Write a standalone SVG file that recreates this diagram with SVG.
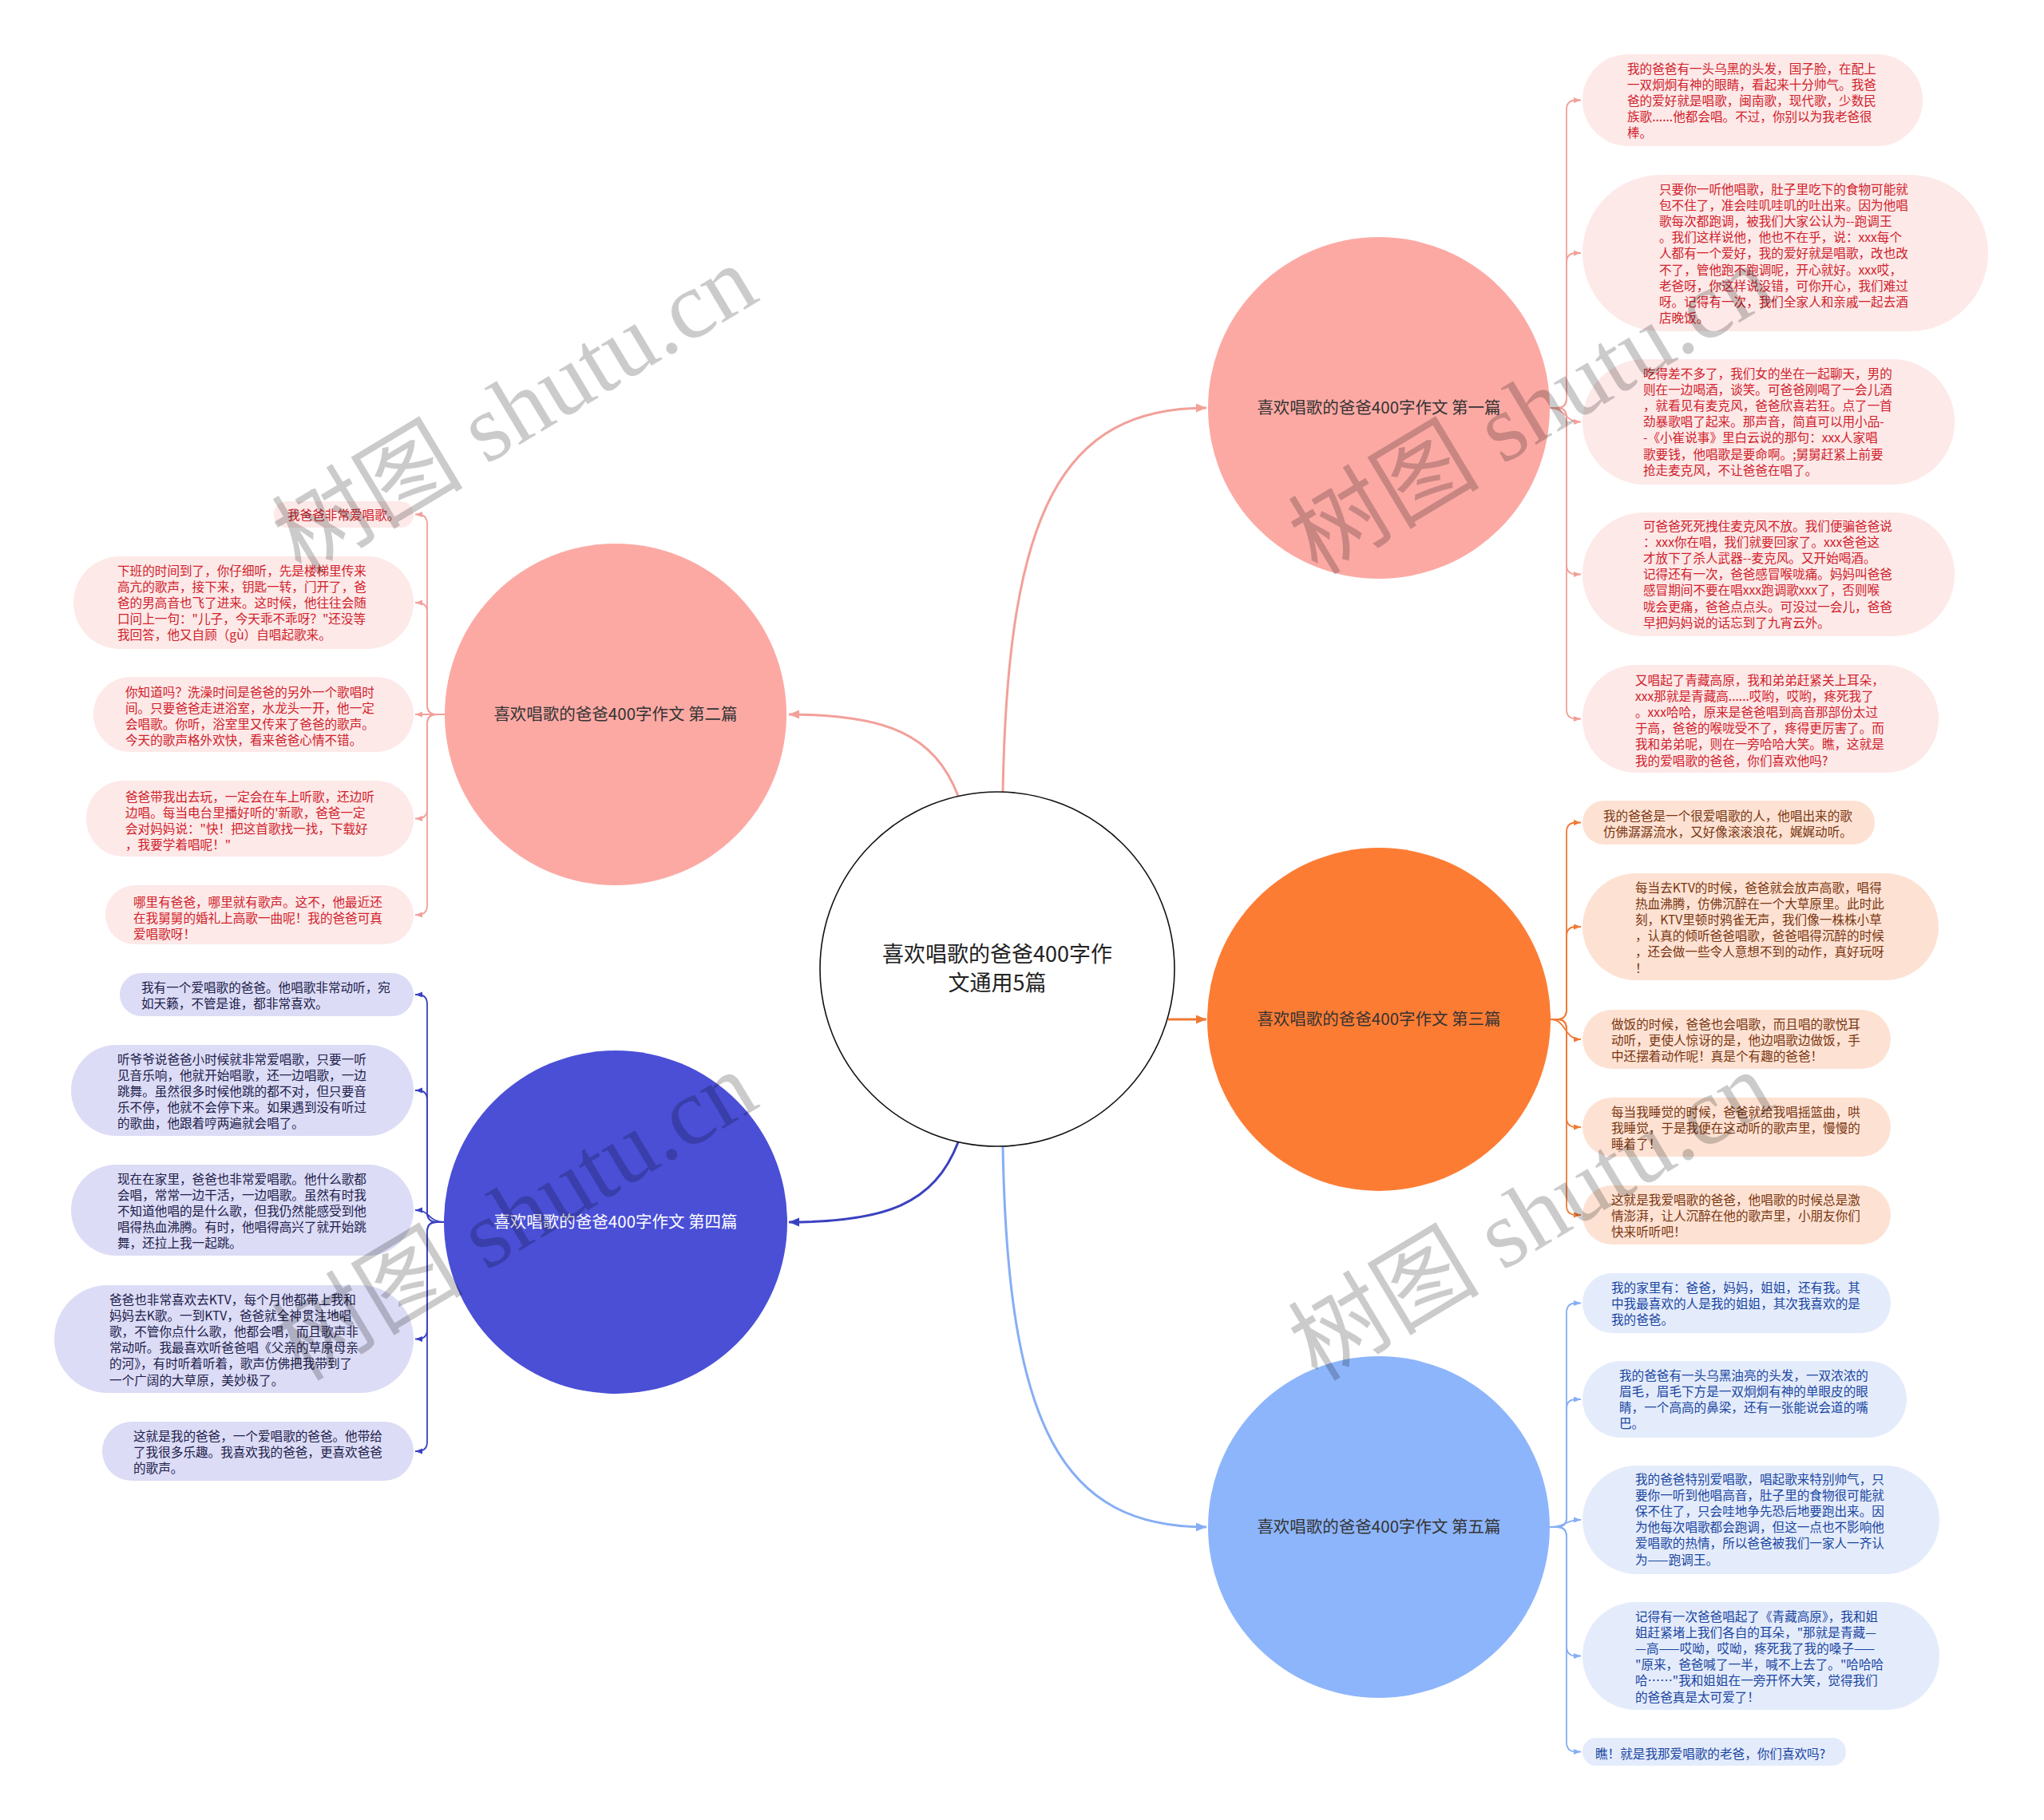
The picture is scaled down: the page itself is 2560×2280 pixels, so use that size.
<svg xmlns="http://www.w3.org/2000/svg" width="2560" height="2280" viewBox="0 0 2560 2280">
<defs>
<style>
.leaf{font-family:"Noto Sans CJK SC","Noto Sans",sans-serif;font-size:15.6px}
.main{font-family:"Noto Sans CJK SC","Noto Sans",sans-serif;font-size:20.5px;text-anchor:middle}
.ctr{font-family:"Noto Sans CJK SC","Noto Sans",sans-serif;font-size:27px;text-anchor:middle;fill:#222}
.wm{font-family:"Liberation Serif","Noto Sans CJK SC",serif;font-size:120px;text-anchor:middle;fill:#000;opacity:0.2}
.rt{fill:#d0212b}.bt{fill:#7a3510}.lt{fill:#1a45a0}.nt{fill:#20204a}
.rf{fill:#fde9e8}.of{fill:#fde2d3}.lf{fill:#e4ecfc}.nf{fill:#dcdcf6}
.c{fill:none}
.cp{stroke:#f2a09a}.co{stroke:#f07a35}.cl{stroke:#86aef5}.cn{stroke:#3a41c0}
.lk{stroke-width:1.8}.mk{stroke-width:3}
</style>
<marker id="aP" markerUnits="userSpaceOnUse" markerWidth="10" markerHeight="8" refX="9" refY="3.5" orient="auto"><path d="M0,0 L9,3.5 L0,7 z" fill="#f2a09a"/></marker>
<marker id="aO" markerUnits="userSpaceOnUse" markerWidth="10" markerHeight="8" refX="9" refY="3.5" orient="auto"><path d="M0,0 L9,3.5 L0,7 z" fill="#f07a35"/></marker>
<marker id="aL" markerUnits="userSpaceOnUse" markerWidth="10" markerHeight="8" refX="9" refY="3.5" orient="auto"><path d="M0,0 L9,3.5 L0,7 z" fill="#86aef5"/></marker>
<marker id="aN" markerUnits="userSpaceOnUse" markerWidth="10" markerHeight="8" refX="9" refY="3.5" orient="auto"><path d="M0,0 L9,3.5 L0,7 z" fill="#3a41c0"/></marker>
<marker id="mP" markerUnits="userSpaceOnUse" markerWidth="14" markerHeight="12" refX="13" refY="5.5" orient="auto"><path d="M0,0 L13,5.5 L0,11 z" fill="#f2a09a"/></marker>
<marker id="mO" markerUnits="userSpaceOnUse" markerWidth="14" markerHeight="12" refX="13" refY="5.5" orient="auto"><path d="M0,0 L13,5.5 L0,11 z" fill="#f07a35"/></marker>
<marker id="mL" markerUnits="userSpaceOnUse" markerWidth="14" markerHeight="12" refX="13" refY="5.5" orient="auto"><path d="M0,0 L13,5.5 L0,11 z" fill="#86aef5"/></marker>
<marker id="mN" markerUnits="userSpaceOnUse" markerWidth="14" markerHeight="12" refX="13" refY="5.5" orient="auto"><path d="M0,0 L13,5.5 L0,11 z" fill="#3a41c0"/></marker>
</defs>
<rect width="2560" height="2280" fill="#ffffff"/>

<g id="connectors" class="c">
<path class="cp mk" marker-end="url(#mP)" d="M1256,992 C1262,640 1330,511 1511,511"/>
<path class="cl mk" marker-end="url(#mL)" d="M1256,1436 C1262,1788 1330,1913 1511,1913"/>
<path class="cp mk" marker-end="url(#mP)" d="M1200,997 C1170,920 1110,895 988,895"/>
<path class="cn mk" marker-end="url(#mN)" d="M1200,1431 C1170,1508 1110,1531 988,1531"/>
<path class="co mk" marker-end="url(#mO)" d="M1463,1277 H1511"/>

<path class="cp lk" marker-end="url(#aP)" d="M1941,511 H1950 Q1962,511 1962,499 V137.5 Q1962,125.5 1974,125.5 H1980"/>
<path class="cp lk" marker-end="url(#aP)" d="M1941,511 H1950 Q1962,511 1962,499 V329 Q1962,317 1974,317 H1980"/>
<path class="cp lk" marker-end="url(#aP)" d="M1941,511 C1962,511 1958,528.5 1980,528.5"/>
<path class="cp lk" marker-end="url(#aP)" d="M1941,511 H1950 Q1962,511 1962,523 V707.5 Q1962,719.5 1974,719.5 H1980"/>
<path class="cp lk" marker-end="url(#aP)" d="M1941,511 H1950 Q1962,511 1962,523 V888.5 Q1962,900.5 1974,900.5 H1980"/>

<path class="co lk" marker-end="url(#aO)" d="M1942,1277 H1950 Q1962,1277 1962,1265 V1042.5 Q1962,1030.5 1974,1030.5 H1980"/>
<path class="co lk" marker-end="url(#aO)" d="M1942,1277 H1950 Q1962,1277 1962,1265 V1173 Q1962,1161 1974,1161 H1980"/>
<path class="co lk" marker-end="url(#aO)" d="M1942,1277 C1962,1277 1958,1302 1980,1302"/>
<path class="co lk" marker-end="url(#aO)" d="M1942,1277 H1950 Q1962,1277 1962,1289 V1400 Q1962,1412 1974,1412 H1980"/>
<path class="co lk" marker-end="url(#aO)" d="M1942,1277 H1950 Q1962,1277 1962,1289 V1510 Q1962,1522 1974,1522 H1980"/>

<path class="cl lk" marker-end="url(#aL)" d="M1941,1913 H1950 Q1962,1913 1962,1901 V1644.5 Q1962,1632.5 1974,1632.5 H1980"/>
<path class="cl lk" marker-end="url(#aL)" d="M1941,1913 H1950 Q1962,1913 1962,1901 V1765 Q1962,1753 1974,1753 H1980"/>
<path class="cl lk" marker-end="url(#aL)" d="M1941,1913 C1962,1913 1958,1904 1980,1904"/>
<path class="cl lk" marker-end="url(#aL)" d="M1941,1913 H1950 Q1962,1913 1962,1925 V2062.5 Q1962,2074.5 1974,2074.5 H1980"/>
<path class="cl lk" marker-end="url(#aL)" d="M1941,1913 H1950 Q1962,1913 1962,1925 V2182.5 Q1962,2194.5 1974,2194.5 H1980"/>

<path class="cp lk" marker-end="url(#aP)" d="M557,895 H547 Q535,895 535,883 V656.5 Q535,644.5 523,644.5 H520"/>
<path class="cp lk" marker-end="url(#aP)" d="M557,895 H547 Q535,895 535,883 V767 Q535,755 523,755 H520"/>
<path class="cp lk" marker-end="url(#aP)" d="M557,895 H520"/>
<path class="cp lk" marker-end="url(#aP)" d="M557,895 H547 Q535,895 535,907 V1013.5 Q535,1025.5 523,1025.5 H520"/>
<path class="cp lk" marker-end="url(#aP)" d="M557,895 H547 Q535,895 535,907 V1134 Q535,1146 523,1146 H520"/>

<path class="cn lk" marker-end="url(#aN)" d="M557,1531 H547 Q535,1531 535,1519 V1258 Q535,1246 523,1246 H520"/>
<path class="cn lk" marker-end="url(#aN)" d="M557,1531 H547 Q535,1531 535,1519 V1378 Q535,1366 523,1366 H520"/>
<path class="cn lk" marker-end="url(#aN)" d="M557,1531 C535,1531 540,1516 520,1516"/>
<path class="cn lk" marker-end="url(#aN)" d="M557,1531 H547 Q535,1531 535,1543 V1665.5 Q535,1677.5 523,1677.5 H520"/>
<path class="cn lk" marker-end="url(#aN)" d="M557,1531 H547 Q535,1531 535,1543 V1806 Q535,1818 523,1818 H520"/>
</g>

<g id="center">
<circle cx="1249" cy="1214" r="222" fill="#ffffff" stroke="#111" stroke-width="1.6"/>
<text class="ctr" x="1249" y="1205">喜欢唱歌的爸爸400字作</text>
<text class="ctr" x="1249" y="1241">文通用5篇</text>
</g>

<g id="main1"><circle cx="1727" cy="511" r="214" fill="#fca9a4"/><text class="main" x="1727" y="518" fill="#333">喜欢唱歌的爸爸400字作文 第一篇</text></g>
<g id="main2"><circle cx="771" cy="895" r="214" fill="#fca9a4"/><text class="main" x="771" y="902" fill="#333">喜欢唱歌的爸爸400字作文 第二篇</text></g>
<g id="main3"><circle cx="1727" cy="1277" r="215" fill="#fd7c34"/><text class="main" x="1727" y="1284" fill="#333">喜欢唱歌的爸爸400字作文 第三篇</text></g>
<g id="main4"><circle cx="771" cy="1531" r="215" fill="#4a4fd6"/><text class="main" x="771" y="1538" fill="#ffffff">喜欢唱歌的爸爸400字作文 第四篇</text></g>
<g id="main5"><circle cx="1727" cy="1913" r="214" fill="#8db5fb"/><text class="main" x="1727" y="1920" fill="#333">喜欢唱歌的爸爸400字作文 第五篇</text></g>

<g id="b1-1"><rect class="rf" x="1982" y="68" width="426" height="115" rx="57"/>
<text class="leaf rt" x="2038" y="91.5"><tspan x="2038">我的爸爸有一头乌黑的头发，国子脸，在配上</tspan><tspan x="2038" dy="20.2">一双炯炯有神的眼睛，看起来十分帅气。我爸</tspan><tspan x="2038" dy="20.2">爸的爱好就是唱歌，闽南歌，现代歌，少数民</tspan><tspan x="2038" dy="20.2">族歌......他都会唱。不过，你别以为我老爸很</tspan><tspan x="2038" dy="20.2">棒。</tspan></text></g>

<g id="b1-2"><rect class="rf" x="1982" y="219" width="508" height="196" rx="98"/>
<text class="leaf rt" x="2078" y="242.5"><tspan x="2078">只要你一听他唱歌，肚子里吃下的食物可能就</tspan><tspan x="2078" dy="20.2">包不住了，准会哇叽哇叽的吐出来。因为他唱</tspan><tspan x="2078" dy="20.2">歌每次都跑调，被我们大家公认为--跑调王</tspan><tspan x="2078" dy="20.2">。我们这样说他，他也不在乎，说：xxx每个</tspan><tspan x="2078" dy="20.2">人都有一个爱好，我的爱好就是唱歌，改也改</tspan><tspan x="2078" dy="20.2">不了，管他跑不跑调呢，开心就好。xxx哎，</tspan><tspan x="2078" dy="20.2">老爸呀，你这样说没错，可你开心，我们难过</tspan><tspan x="2078" dy="20.2">呀。记得有一次，我们全家人和亲戚一起去酒</tspan><tspan x="2078" dy="20.2">店晚饭。</tspan></text></g>

<g id="b1-3"><rect class="rf" x="1982" y="450" width="466" height="157" rx="78"/>
<text class="leaf rt" x="2058" y="473.5"><tspan x="2058">吃得差不多了，我们女的坐在一起聊天，男的</tspan><tspan x="2058" dy="20.2">则在一边喝酒，谈笑。可爸爸刚喝了一会儿酒</tspan><tspan x="2058" dy="20.2">，就看见有麦克风，爸爸欣喜若狂。点了一首</tspan><tspan x="2058" dy="20.2">劲暴歌唱了起来。那声音，简直可以用小品-</tspan><tspan x="2058" dy="20.2">-《小崔说事》里白云说的那句：xxx人家唱</tspan><tspan x="2058" dy="20.2">歌要钱，他唱歌是要命啊。;舅舅赶紧上前要</tspan><tspan x="2058" dy="20.2">抢走麦克风，不让爸爸在唱了。</tspan></text></g>

<g id="b1-4"><rect class="rf" x="1982" y="642" width="466" height="155" rx="77"/>
<text class="leaf rt" x="2058" y="664.5"><tspan x="2058">可爸爸死死拽住麦克风不放。我们便骗爸爸说</tspan><tspan x="2058" dy="20.2">：xxx你在唱，我们就要回家了。xxx爸爸这</tspan><tspan x="2058" dy="20.2">才放下了杀人武器--麦克风。又开始喝酒。</tspan><tspan x="2058" dy="20.2">记得还有一次，爸爸感冒喉咙痛。妈妈叫爸爸</tspan><tspan x="2058" dy="20.2">感冒期间不要在唱xxx跑调歌xxx了，否则喉</tspan><tspan x="2058" dy="20.2">咙会更痛，爸爸点点头。可没过一会儿，爸爸</tspan><tspan x="2058" dy="20.2">早把妈妈说的话忘到了九宵云外。</tspan></text></g>

<g id="b1-5"><rect class="rf" x="1982" y="833" width="446" height="135" rx="67"/>
<text class="leaf rt" x="2048" y="857.5"><tspan x="2048">又唱起了青藏高原，我和弟弟赶紧关上耳朵，</tspan><tspan x="2048" dy="20.2">xxx那就是青藏高......哎哟，哎哟，疼死我了</tspan><tspan x="2048" dy="20.2">。xxx哈哈，原来是爸爸唱到高音那部份太过</tspan><tspan x="2048" dy="20.2">于高，爸爸的喉咙受不了，疼得更厉害了。而</tspan><tspan x="2048" dy="20.2">我和弟弟呢，则在一旁哈哈大笑。瞧，这就是</tspan><tspan x="2048" dy="20.2">我的爱唱歌的爸爸，你们喜欢他吗?</tspan></text></g>

<g id="b3-1"><rect class="of" x="1982" y="1003" width="366" height="55" rx="27"/>
<text class="leaf bt" x="2008" y="1027.5"><tspan x="2008">我的爸爸是一个很爱唱歌的人，他唱出来的歌</tspan><tspan x="2008" dy="20.2">仿佛潺潺流水，又好像滚滚浪花，娓娓动听。</tspan></text></g>

<g id="b3-2"><rect class="of" x="1982" y="1094" width="446" height="134" rx="67"/>
<text class="leaf bt" x="2048" y="1117.5"><tspan x="2048">每当去KTV的时候，爸爸就会放声高歌，唱得</tspan><tspan x="2048" dy="20.2">热血沸腾，仿佛沉醉在一个大草原里。此时此</tspan><tspan x="2048" dy="20.2">刻，KTV里顿时鸦雀无声，我们像一株株小草</tspan><tspan x="2048" dy="20.2">，认真的倾听爸爸唱歌，爸爸唱得沉醉的时候</tspan><tspan x="2048" dy="20.2">，还会做一些令人意想不到的动作，真好玩呀</tspan><tspan x="2048" dy="20.2">！</tspan></text></g>

<g id="b3-3"><rect class="of" x="1982" y="1265" width="386" height="74" rx="37"/>
<text class="leaf bt" x="2018" y="1288.5"><tspan x="2018">做饭的时候，爸爸也会唱歌，而且唱的歌悦耳</tspan><tspan x="2018" dy="20.2">动听，更使人惊讶的是，他边唱歌边做饭，手</tspan><tspan x="2018" dy="20.2">中还摆着动作呢！真是个有趣的爸爸！</tspan></text></g>

<g id="b3-4"><rect class="of" x="1982" y="1375" width="386" height="74" rx="37"/>
<text class="leaf bt" x="2018" y="1398.5"><tspan x="2018">每当我睡觉的时候，爸爸就给我唱摇篮曲，哄</tspan><tspan x="2018" dy="20.2">我睡觉，于是我便在这动听的歌声里，慢慢的</tspan><tspan x="2018" dy="20.2">睡着了！</tspan></text></g>

<g id="b3-5"><rect class="of" x="1982" y="1485" width="386" height="74" rx="37"/>
<text class="leaf bt" x="2018" y="1508.5"><tspan x="2018">这就是我爱唱歌的爸爸，他唱歌的时候总是激</tspan><tspan x="2018" dy="20.2">情澎湃，让人沉醉在他的歌声里，小朋友你们</tspan><tspan x="2018" dy="20.2">快来听听吧！</tspan></text></g>

<g id="b5-1"><rect class="lf" x="1982" y="1595" width="386" height="75" rx="37"/>
<text class="leaf lt" x="2018" y="1618.5"><tspan x="2018">我的家里有：爸爸，妈妈，姐姐，还有我。其</tspan><tspan x="2018" dy="20.2">中我最喜欢的人是我的姐姐，其次我喜欢的是</tspan><tspan x="2018" dy="20.2">我的爸爸。</tspan></text></g>

<g id="b5-2"><rect class="lf" x="1982" y="1705" width="406" height="96" rx="48"/>
<text class="leaf lt" x="2028" y="1728.5"><tspan x="2028">我的爸爸有一头乌黑油亮的头发，一双浓浓的</tspan><tspan x="2028" dy="20.2">眉毛，眉毛下方是一双炯炯有神的单眼皮的眼</tspan><tspan x="2028" dy="20.2">睛，一个高高的鼻梁，还有一张能说会道的嘴</tspan><tspan x="2028" dy="20.2">巴。</tspan></text></g>

<g id="b5-3"><rect class="lf" x="1982" y="1836" width="447" height="136" rx="68"/>
<text class="leaf lt" x="2048" y="1858.5"><tspan x="2048">我的爸爸特别爱唱歌，唱起歌来特别帅气，只</tspan><tspan x="2048" dy="20.2">要你一听到他唱高音，肚子里的食物很可能就</tspan><tspan x="2048" dy="20.2">保不住了，只会哇地争先恐后地要跑出来。因</tspan><tspan x="2048" dy="20.2">为他每次唱歌都会跑调，但这一点也不影响他</tspan><tspan x="2048" dy="20.2">爱唱歌的热情，所以爸爸被我们一家人一齐认</tspan><tspan x="2048" dy="20.2">为——跑调王。</tspan></text></g>

<g id="b5-4"><rect class="lf" x="1982" y="2007" width="447" height="135" rx="67"/>
<text class="leaf lt" x="2048" y="2030.5"><tspan x="2048">记得有一次爸爸唱起了《青藏高原》，我和姐</tspan><tspan x="2048" dy="20.2">姐赶紧堵上我们各自的耳朵，"那就是青藏—</tspan><tspan x="2048" dy="20.2">—高——哎呦，哎呦，疼死我了我的嗓子——</tspan><tspan x="2048" dy="20.2">"原来，爸爸喊了一半，喊不上去了。"哈哈哈</tspan><tspan x="2048" dy="20.2">哈……"我和姐姐在一旁开怀大笑，觉得我们</tspan><tspan x="2048" dy="20.2">的爸爸真是太可爱了！</tspan></text></g>

<g id="b5-5"><rect class="lf" x="1982" y="2177" width="330" height="35" rx="17"/>
<text class="leaf lt" x="1998" y="2202.5">瞧！就是我那爱唱歌的老爸，你们喜欢吗?</text></g>

<g id="b2-1"><rect class="rf" x="343" y="628" width="175" height="33" rx="16"/>
<text class="leaf rt" x="360" y="650.5">我爸爸非常爱唱歌。</text></g>

<g id="b2-2"><rect class="rf" x="92" y="697" width="426" height="116" rx="58"/>
<text class="leaf rt" x="147" y="720.5"><tspan x="147">下班的时间到了，你仔细听，先是楼梯里传来</tspan><tspan x="147" dy="20.2">高亢的歌声，接下来，钥匙一转，门开了，爸</tspan><tspan x="147" dy="20.2">爸的男高音也飞了进来。这时候，他往往会随</tspan><tspan x="147" dy="20.2">口问上一句："儿子，今天乖不乖呀？"还没等</tspan><tspan x="147" dy="20.2">我回答，他又自顾（gù）自唱起歌来。</tspan></text></g>

<g id="b2-3"><rect class="rf" x="117" y="848" width="401" height="94" rx="47"/>
<text class="leaf rt" x="157" y="872.5"><tspan x="157">你知道吗？洗澡时间是爸爸的另外一个歌唱时</tspan><tspan x="157" dy="20.2">间。只要爸爸走进浴室，水龙头一开，他一定</tspan><tspan x="157" dy="20.2">会唱歌。你听，浴室里又传来了爸爸的歌声。</tspan><tspan x="157" dy="20.2">今天的歌声格外欢快，看来爸爸心情不错。</tspan></text></g>

<g id="b2-4"><rect class="rf" x="108" y="978" width="410" height="95" rx="47"/>
<text class="leaf rt" x="157" y="1003.5"><tspan x="157">爸爸带我出去玩，一定会在车上听歌，还边听</tspan><tspan x="157" dy="20.2">边唱。每当电台里播好听的'新歌，爸爸一定</tspan><tspan x="157" dy="20.2">会对妈妈说："快！把这首歌找一找，下载好</tspan><tspan x="157" dy="20.2">，我要学着唱呢！"</tspan></text></g>

<g id="b2-5"><rect class="rf" x="132" y="1109" width="386" height="74" rx="37"/>
<text class="leaf rt" x="167" y="1135.5"><tspan x="167">哪里有爸爸，哪里就有歌声。这不，他最近还</tspan><tspan x="167" dy="20.2">在我舅舅的婚礼上高歌一曲呢！我的爸爸可真</tspan><tspan x="167" dy="20.2">爱唱歌呀！</tspan></text></g>

<g id="b4-1"><rect class="nf" x="150" y="1219" width="368" height="54" rx="27"/>
<text class="leaf nt" x="177" y="1242.5"><tspan x="177">我有一个爱唱歌的爸爸。他唱歌非常动听，宛</tspan><tspan x="177" dy="20.2">如天籁，不管是谁，都非常喜欢。</tspan></text></g>

<g id="b4-2"><rect class="nf" x="89" y="1309" width="429" height="114" rx="57"/>
<text class="leaf nt" x="147" y="1332.5"><tspan x="147">听爷爷说爸爸小时候就非常爱唱歌，只要一听</tspan><tspan x="147" dy="20.2">见音乐响，他就开始唱歌，还一边唱歌，一边</tspan><tspan x="147" dy="20.2">跳舞。虽然很多时候他跳的都不对，但只要音</tspan><tspan x="147" dy="20.2">乐不停，他就不会停下来。如果遇到没有听过</tspan><tspan x="147" dy="20.2">的歌曲，他跟着哼两遍就会唱了。</tspan></text></g>

<g id="b4-3"><rect class="nf" x="89" y="1459" width="429" height="114" rx="57"/>
<text class="leaf nt" x="147" y="1482.5"><tspan x="147">现在在家里，爸爸也非常爱唱歌。他什么歌都</tspan><tspan x="147" dy="20.2">会唱，常常一边干活，一边唱歌。虽然有时我</tspan><tspan x="147" dy="20.2">不知道他唱的是什么歌，但我仍然能感受到他</tspan><tspan x="147" dy="20.2">唱得热血沸腾。有时，他唱得高兴了就开始跳</tspan><tspan x="147" dy="20.2">舞，还拉上我一起跳。</tspan></text></g>

<g id="b4-4"><rect class="nf" x="68" y="1610" width="450" height="135" rx="67"/>
<text class="leaf nt" x="137" y="1633.5"><tspan x="137">爸爸也非常喜欢去KTV，每个月他都带上我和</tspan><tspan x="137" dy="20.2">妈妈去K歌。一到KTV，爸爸就全神贯注地唱</tspan><tspan x="137" dy="20.2">歌，不管你点什么歌，他都会唱，而且歌声非</tspan><tspan x="137" dy="20.2">常动听。我最喜欢听爸爸唱《父亲的草原母亲</tspan><tspan x="137" dy="20.2">的河》，有时听着听着，歌声仿佛把我带到了</tspan><tspan x="137" dy="20.2">一个广阔的大草原，美妙极了。</tspan></text></g>

<g id="b4-5"><rect class="nf" x="128" y="1781" width="390" height="74" rx="37"/>
<text class="leaf nt" x="167" y="1804.5"><tspan x="167">这就是我的爸爸，一个爱唱歌的爸爸。他带给</tspan><tspan x="167" dy="20.2">了我很多乐趣。我喜欢我的爸爸，更喜欢爸爸</tspan><tspan x="167" dy="20.2">的歌声。</tspan></text></g>

<g id="watermarks">
<text class="wm" transform="translate(645,514) rotate(-31)" y="40">树图 shutu.cn</text>
<text class="wm" transform="translate(1918,514) rotate(-31)" y="40">树图 shutu.cn</text>
<text class="wm" transform="translate(645,1524) rotate(-31)" y="40">树图 shutu.cn</text>
<text class="wm" transform="translate(1918,1524) rotate(-31)" y="40">树图 shutu.cn</text>
</g>
</svg>
